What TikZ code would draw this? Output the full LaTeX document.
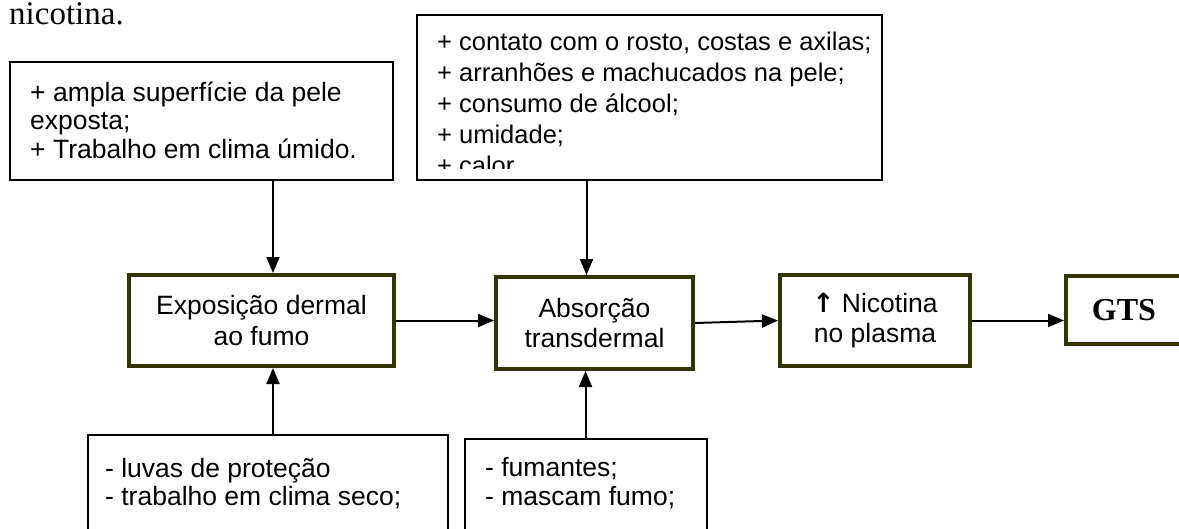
\documentclass[tikz,border=0pt]{standalone}
\usepackage{fontspec}
\setmainfont{Liberation Sans}
\newfontfamily\seriffont{Liberation Serif}
\newfontfamily\arrowfont{DejaVu Sans}
\usetikzlibrary{arrows.meta}
\definecolor{myolive}{rgb}{0.2,0.2,0.0}

\begin{document}
\begin{tikzpicture}[%
  x=1pt, y=-1pt,
  >={Triangle[length=16pt,width=13pt]},
  conn/.style={->, line width=2pt},
  fator/.style={draw, line width=2pt, inner sep=0pt},
  etapa/.style={draw=myolive, line width=4pt, align=center, inner sep=0pt,
    font=\fontsize{26.5}{30.5}\selectfont},
  lista/.style={anchor=base west, align=left, inner sep=0pt},
]

  \clip (0,0) rectangle (1179,528);

  \node[anchor=base west, inner sep=0pt,
    font=\seriffont\fontsize{33}{38}\selectfont] (frase) at (9,24.5) {nicotina.};

  % fatores acima
  \node[fator, minimum width=383pt, minimum height=118pt] (pele) at (201.5,121) {};
  \node[lista, font=\fontsize{26.5}{28.5}\selectfont] (peletxt) at (30,158)
    {+ ampla superfície da pele\\exposta;\\+ Trabalho em clima úmido.};

  \node[fator, minimum width=465pt, minimum height=165pt] (riscos) at (649.5,97.5) {};
  \begin{scope}
    \clip (418,16) rectangle (881,168);
    \node[lista, font=\fontsize{25.5}{31}\selectfont] (riscostxt) at (437,174)
      {+ contato com o rosto, costas e axilas;\\+ arranhões e machucados na pele;\\
       + consumo de álcool;\\+ umidade;\\+ calor};
  \end{scope}

  % fatores abaixo
  \node[fator, minimum width=360pt, minimum height=125pt] (luvas) at (268,497.5) {};
  \node[lista, font=\fontsize{26.5}{28}\selectfont] (luvastxt) at (105,505)
    {- luvas de proteção\\- trabalho em clima seco;};

  \node[fator, minimum width=242pt, minimum height=121pt] (fumantes) at (586,499.5) {};
  \node[lista, font=\fontsize{26.5}{29}\selectfont] (fumtxt) at (485,505)
    {- fumantes;\\- mascam fumo;};

  % etapas
  \node[etapa, minimum width=265pt, minimum height=91pt] (expos) at (261.5,320.5)
    {Exposição dermal\\ao fumo};
  \node[etapa, minimum width=197pt, minimum height=92pt] (absor) at (594.5,323)
    {Absorção\\transdermal};
  \node[etapa, minimum width=190pt, minimum height=91pt] (nicot) at (875,320.5)
    {{\arrowfont\bfseries ↑} Nicotina\\no plasma};
  \node[etapa, minimum width=116pt, minimum height=68pt,
    font=\seriffont\bfseries\fontsize{32}{34}\selectfont] (gts) at (1124,310) {GTS};

  \draw[conn] ([xshift=11.5pt]expos.north |- pele.south) -- ([xshift=11.5pt]expos.north);
  \draw[conn] ([xshift=-8pt]absor.north |- riscos.south) -- ([xshift=-8pt]absor.north);
  \draw[conn] ([xshift=11.5pt]expos.south |- luvas.north) -- ([xshift=11.5pt]expos.south);
  \draw[conn] ([xshift=-9pt]absor.south |- fumantes.north) -- ([xshift=-9pt]absor.south);

  \draw[conn] (expos.east) -- (expos.east -| absor.west);
  \draw[conn] (absor.east) -- (nicot.west);
  \draw[conn] (nicot.east) -- (nicot.east -| gts.west);

\end{tikzpicture}
\end{document}
